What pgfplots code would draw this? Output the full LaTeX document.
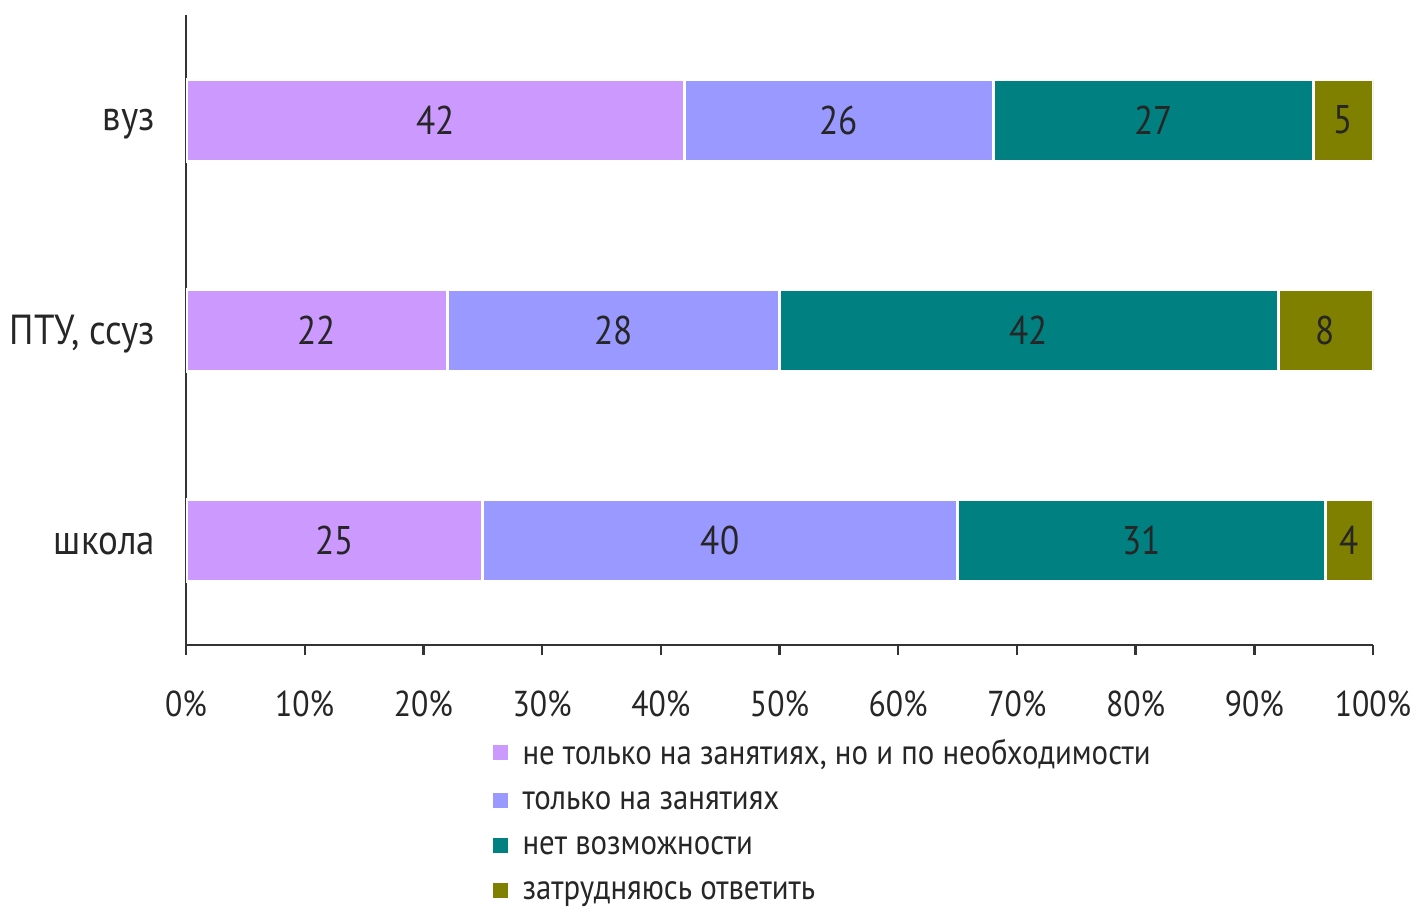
\documentclass[border=0pt]{standalone}
\usepackage{pgfplots}
\pgfplotsset{compat=1.18}
\usepackage{fontspec}
\setmainfont{PT Sans}[FakeStretch=0.88]

\definecolor{cPurple}{HTML}{CC99FF}
\definecolor{cBlue}{HTML}{9999FF}
\definecolor{cTeal}{HTML}{008080}
\definecolor{cOlive}{HTML}{808000}
\definecolor{axisgray}{HTML}{333333}

\begin{document}
\begin{tikzpicture}
\useasboundingbox (0,0) rectangle (709.5pt,456pt);
\begin{axis}[
    at={(93pt,133.5pt)}, anchor=south west,
    scale only axis,
    width=593.5pt, height=315pt,
    xbar stacked,
    bar width=41pt,
    xmin=0, xmax=100,
    ymin=-0.5, ymax=2.5,
    axis x line*=bottom,
    axis y line*=left,
    axis line style={axisgray, line width=1.2pt},
    tick style={axisgray, line width=1.2pt},
    tick align=outside,
    major tick length=5pt,
    xtick={0,10,...,100},
    xticklabel={\pgfmathprintnumber{\tick}\%},
    /pgf/number format/assume math mode=true,
    ytick={0,1,2},
    yticklabels={школа, {ПТУ, ссуз}, вуз},
    y tick style={draw=none},
    extra y ticks={-0.5,0.5,1.5,2.5},
    extra y tick labels={},
    extra y tick style={tick style={axisgray, line width=1.2pt}},
    tick label style={text=black!85},
    xticklabel style={font=\fontsize{18}{21}\selectfont, yshift=-14.5pt},
    yticklabel style={font=\fontsize{21}{24}\selectfont, xshift=-7pt, yshift=-2pt},
    nodes near coords,
    point meta=rawx,
    every node near coord/.append style={anchor=center,
        font=\fontsize{20}{23}\selectfont, text=black!85},
    legend style={at={(0.252,-0.136)}, anchor=north west, draw=none,
        font=\fontsize{17.5}{20}\selectfont, text=black!85, row sep=8pt,
        legend cell align=left},
    legend image code/.code={\path (0pt,0pt) -- (12pt,0pt);
        \fill[#1, draw=none] (0pt,-3.2pt) rectangle (7.5pt,4.3pt);},
]
\addplot[fill=cPurple, draw=white, line width=1.5pt] coordinates {(25,0) (22,1) (42,2)};
\addplot[fill=cBlue, draw=white, line width=1.5pt] coordinates {(40,0) (28,1) (26,2)};
\addplot[fill=cTeal, draw=white, line width=1.5pt] coordinates {(31,0) (42,1) (27,2)};
\addplot[fill=cOlive, draw=white, line width=1.5pt] coordinates {(4,0) (8,1) (5,2)};
\legend{{не только на занятиях, но и по необходимости}, только на занятиях, нет возможности, затрудняюсь ответить}
\end{axis}
\end{tikzpicture}
\end{document}
